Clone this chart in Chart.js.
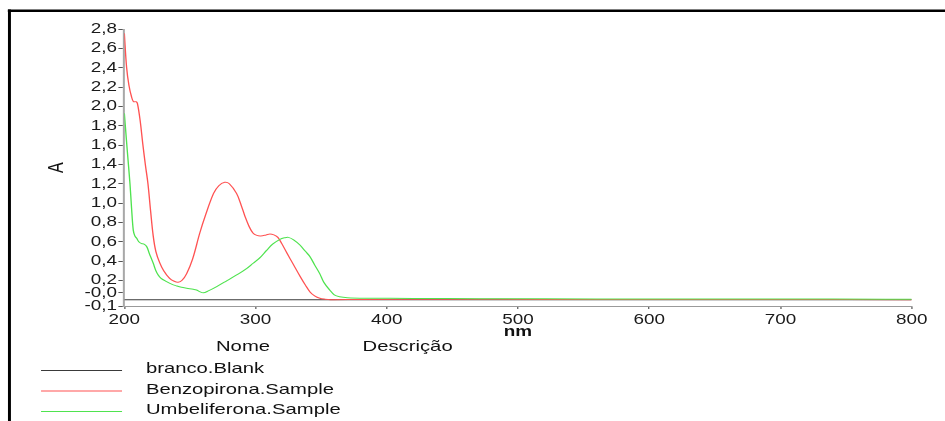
<!DOCTYPE html>
<html>
<head>
<meta charset="utf-8">
<script src="https://cdn.jsdelivr.net/npm/chart.js@4/dist/chart.umd.min.js"></script>
<style>
  html, body { margin: 0; padding: 0; background: #fff; }
  #c { display: block; }
</style>
</head>
<body>
<canvas id="c" width="700" height="421"></canvas>
<script>
// Spectrum data: wavelength (nm) and absorbance (A)
const blankNm = [200, 800];
const blankA  = [0, 0];

const benzoNm = [200, 201.7, 203.5, 205.5, 207, 209, 210, 212, 214, 216, 218, 220, 222, 224, 227, 230, 234.5, 238, 241, 244, 247.5, 252, 257.5, 262, 268, 272, 276.5, 280, 285.5, 289, 292, 295, 298, 301, 304, 308, 311, 314, 317, 320, 324, 329, 334, 338, 341.5, 345, 349, 353, 357, 380, 450, 520, 600, 700, 800];
const benzoA  = [2.76, 2.41, 2.22, 2.10, 2.05, 2.05, 2.03, 1.86, 1.62, 1.40, 1.20, 0.92, 0.66, 0.50, 0.38, 0.30, 0.22, 0.19, 0.18, 0.20, 0.27, 0.42, 0.69, 0.88, 1.10, 1.18, 1.215, 1.20, 1.10, 0.98, 0.86, 0.76, 0.69, 0.665, 0.66, 0.67, 0.68, 0.67, 0.645, 0.58, 0.48, 0.36, 0.24, 0.15, 0.08, 0.04, 0.015, 0.005, 0.0, 0.002, 0.003, 0.002, 0.001, 0.001, 0.0];

const umbelNm = [200, 202.2, 204.3, 205.5, 206.8, 208, 209.4, 211, 213.2, 215, 217, 219, 222, 224, 225.8, 228, 232.2, 236, 239.9, 243.5, 247.5, 252.5, 255, 257, 260.2, 264, 270.4, 278, 285.6, 292, 298.2, 303, 308.4, 313, 318.6, 322, 325, 329, 333.8, 338, 341.5, 345, 348.9, 352, 356.5, 360, 364, 370, 385, 420, 470, 500, 520, 600, 700, 780, 800];
const umbelA  = [1.93, 1.55, 1.20, 0.95, 0.72, 0.66, 0.635, 0.60, 0.58, 0.575, 0.55, 0.48, 0.377, 0.30, 0.255, 0.22, 0.186, 0.16, 0.142, 0.128, 0.118, 0.107, 0.10, 0.085, 0.07, 0.09, 0.135, 0.195, 0.256, 0.31, 0.377, 0.43, 0.51, 0.575, 0.625, 0.64, 0.645, 0.62, 0.566, 0.50, 0.445, 0.36, 0.27, 0.18, 0.10, 0.05, 0.03, 0.02, 0.015, 0.012, 0.01, 0.01, 0.008, 0.006, 0.006, 0.005, 0.004];

const seriesNames = ['branco.Blank', 'Benzopirona.Sample', 'Umbeliferona.Sample'];
const legendHeaders = ['Nome', 'Descrição'];

const xTickValues = [200, 300, 400, 500, 600, 700, 800];
const yTickValues = [-0.066, 0.07, 0.2, 0.4, 0.6, 0.8, 1.0, 1.2, 1.4, 1.6, 1.8, 2.0, 2.2, 2.4, 2.6, 2.8];
const yTickLabels = ['-0,1', '-0,0', '0,2', '0,4', '0,6', '0,8', '1,0', '1,2', '1,4', '1,6', '1,8', '2,0', '2,2', '2,4', '2,6', '2,8'];

// Horizontal stretch of the drawing (the report renders its fonts wide)
const SX = 1.35;
const FONT = "'Liberation Sans', Arial, sans-serif";

const toPoints = (xs, ys) => xs.map((x, i) => ({ x: x, y: ys[i] }));

const stretchPlugin = {
  id: 'stretch',
  beforeDraw(chart) {
    chart.ctx.setTransform(SX, 0, 0, 1, 0, 0);
  }
};

// Frame around the report and the "Nome / Descrição" legend table
const reportPlugin = {
  id: 'report',
  afterDraw(chart) {
    const ctx = chart.ctx;
    ctx.save();
    ctx.strokeStyle = '#000';
    ctx.lineWidth = 2.6;
    ctx.beginPath();
    ctx.moveTo(5.8, 10.7);
    ctx.lineTo(chart.width, 10.7);
    ctx.stroke();
    ctx.lineWidth = 2.2;
    ctx.beginPath();
    ctx.moveTo(7.0, 9.4);
    ctx.lineTo(7.0, chart.height);
    ctx.stroke();

    ctx.fillStyle = '#111';
    ctx.font = '15px ' + FONT;
    ctx.textBaseline = 'middle';
    ctx.textAlign = 'left';
    ctx.fillText(legendHeaders[0], 160, 347);
    ctx.fillText(legendHeaders[1], 268.6, 347);

    const rows = [369, 389.5, 410];
    chart.data.datasets.forEach((ds, i) => {
      const y = rows[i];
      ctx.strokeStyle = ds.borderColor;
      ctx.lineWidth = 1;
      ctx.beginPath();
      ctx.moveTo(30.4, y + 1.5);
      ctx.lineTo(90.4, y + 1.5);
      ctx.stroke();
      ctx.fillStyle = '#111';
      ctx.fillText(ds.label, 108.1, y);
    });
    ctx.restore();
  }
};

const canvas = document.getElementById('c');
const chart = new Chart(canvas, {
  type: 'line',
  data: {
    datasets: [
      {
        label: seriesNames[0],
        data: toPoints(blankNm, blankA),
        borderColor: '#3a3a3a',
        borderWidth: 1,
        order: 3
      },
      {
        label: seriesNames[1],
        data: toPoints(benzoNm, benzoA),
        borderColor: '#ff5252',
        borderWidth: 1,
        order: 2
      },
      {
        label: seriesNames[2],
        data: toPoints(umbelNm, umbelA),
        borderColor: '#4fe34f',
        borderWidth: 1,
        order: 1
      }
    ]
  },
  options: {
    responsive: false,
    animation: false,
    devicePixelRatio: 1,
    events: [],
    layout: { padding: { left: 0, right: 24.7, top: 29.3, bottom: 0 } },
    elements: {
      point: { radius: 0 },
      line: { tension: 0.35, cubicInterpolationMode: 'default', fill: false }
    },
    plugins: {
      legend: { display: false },
      tooltip: { enabled: false }
    },
    scales: {
      x: {
        type: 'linear',
        min: 200,
        max: 800,
        afterFit(scale) { scale.height = 115; },
        afterBuildTicks(scale) { scale.ticks = xTickValues.map(v => ({ value: v })); },
        border: { display: true, color: '#9a9a9a', width: 1 },
        grid: { drawOnChartArea: false, drawTicks: true, tickLength: 3, tickColor: '#666', lineWidth: 1 },
        ticks: { color: '#1a1a1a', padding: 2.5, maxRotation: 0, font: { family: FONT, size: 14 } },
        title: {
          display: true,
          text: 'nm',
          color: '#111',
          font: { family: FONT, size: 14, weight: 'bold' },
          padding: { top: 0, bottom: 80.5 }
        }
      },
      y: {
        type: 'linear',
        min: -0.066,
        max: 2.8,
        afterFit(scale) { scale.width = 92.1; },
        afterBuildTicks(scale) { scale.ticks = yTickValues.map(v => ({ value: v })); },
        border: { display: true, color: '#a8a8a8', width: 1.5 },
        grid: { drawOnChartArea: false, drawTicks: true, tickLength: 4.4, tickColor: '#555', lineWidth: 1 },
        ticks: {
          color: '#1a1a1a',
          padding: 1,
          autoSkip: false,
          font: { family: FONT, size: 14 },
          callback: (value, index) => yTickLabels[index]
        },
        title: {
          display: true,
          text: 'A',
          color: '#111',
          font: { family: FONT, size: 16 },
          padding: { top: 32.6, bottom: 0 }
        }
      }
    }
  },
  plugins: [stretchPlugin, reportPlugin]
});

// Widen the backing store to the displayed width and redraw with the stretch
const fullWidth = Math.round(chart.width * SX);
canvas.width = fullWidth;
canvas.style.width = fullWidth + 'px';
canvas.style.height = chart.height + 'px';
chart.draw();
</script>
</body>
</html>
